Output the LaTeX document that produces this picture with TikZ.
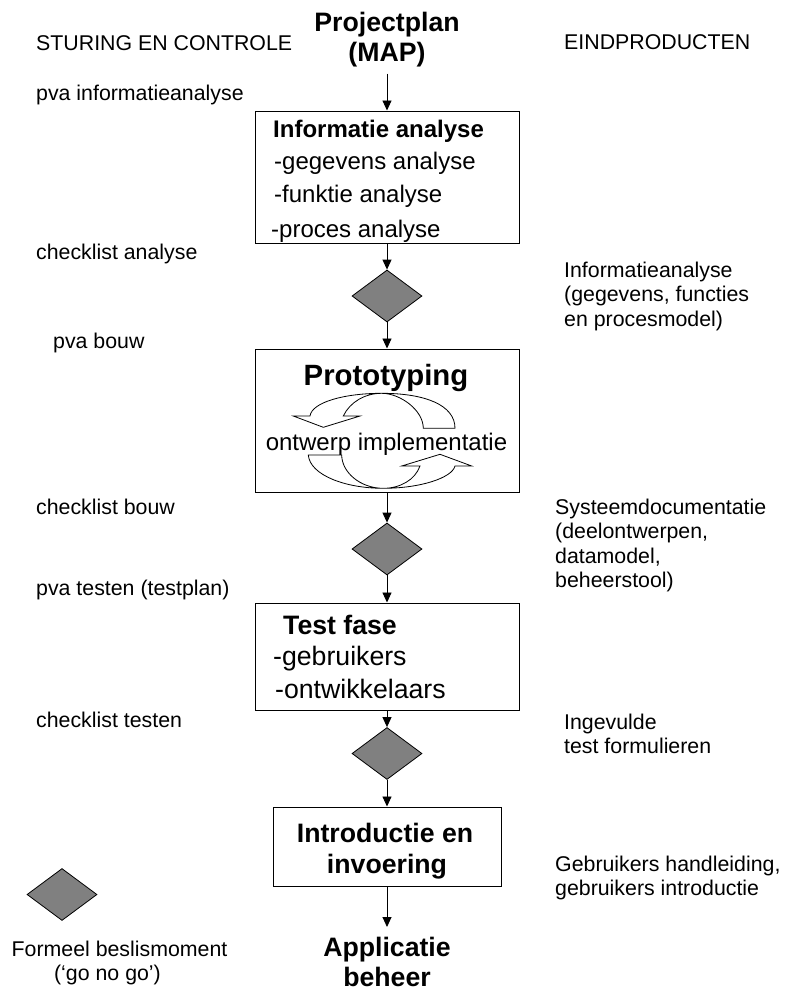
\documentclass[tikz,border=0pt]{standalone}
\usepackage{fontspec}
\setmainfont{Liberation Sans}
\usetikzlibrary{shapes.geometric,arrows.meta}
\definecolor{gatefill}{RGB}{128,128,128}
\begin{document}
\begin{tikzpicture}[x=1pt,y=-1pt,
  lbl/.style={anchor=base west,inner sep=0pt,font=\fontsize{21.33}{24.5}\selectfont},
  title/.style={anchor=base,inner sep=0pt,font=\fontsize{26.67}{30}\selectfont\bfseries},
  boxhead/.style={anchor=base west,inner sep=0pt,font=\fontsize{24}{28}\selectfont\bfseries},
  boxline/.style={anchor=base west,inner sep=0pt,font=\fontsize{24}{28}\selectfont},
  bighead/.style={anchor=base west,inner sep=0pt,font=\fontsize{26.67}{30}\selectfont\bfseries},
  bigline/.style={anchor=base west,inner sep=0pt,font=\fontsize{26.67}{30}\selectfont},
  phase/.style={draw,line width=1pt,inner sep=0pt},
  gate/.style={diamond,draw,fill=gatefill,line width=0.8pt,inner sep=0pt,
    minimum width=70pt,minimum height=52pt},
  flow/.style={line width=0.9pt,-{Triangle[length=10pt,width=9pt]}},
  loop/.style={draw,line width=0.8pt,fill=white}]
\useasboundingbox (0,0) rectangle (787,996);

% column headings
\node[lbl] (hleft) at (36,50) {STURING EN CONTROLE};
\node[lbl] (hright) at (564,49) {EINDPRODUCTEN};

% start and end of the flow
\node[title,anchor=south,inner sep=0pt,inner ysep=6pt,align=center] (plan) at (387,73.5)
  {Projectplan\\(MAP)};
\node[title,anchor=north,inner sep=0pt,inner ysep=0pt,align=center] (app) at (387,927)
  {\rule{0pt}{29pt}Applicatie\\beheer};

% phase boxes
\node[phase,minimum width=264pt,minimum height=132pt] (info) at (387,177) {};
\node[phase,minimum width=264pt,minimum height=143pt] (proto) at (387,420.5) {};
\node[phase,minimum width=264pt,minimum height=107pt] (test) at (387,656.5) {};
\node[phase,minimum width=228pt,minimum height=79pt] (intro) at (387,846.5) {};

% decision points
\node[gate] (d1) at (387,296) {};
\node[gate] (d2) at (387,549) {};
\node[gate] (d3) at (387,753.5) {};
\node[gate] (legend) at (62,894.5) {};

% flow arrows
\draw[flow] (plan) -- (info);
\draw[flow] (info) -- (d1);
\draw[flow] (d1) -- (proto);
\draw[flow] (proto) -- (d2);
\draw[flow] (d2) -- (test);
\draw[flow] (test) -- (d3);
\draw[flow] (d3) -- (intro);
\draw[flow] (intro) -- (app);

% information analysis box
\node[boxhead] (infoh) at (273,137) {Informatie analyse};
\node[boxline] (info1) at (274,169) {-gegevens analyse};
\node[boxline] (info2) at (274,202) {-funktie analyse};
\node[boxline] (info3) at (271,237) {-proces analyse};

% prototyping box with its two curved arrows
\path[loop] (455,428.3) .. controls (455,405) and (425,393.3) .. (381.7,393.3)
  .. controls (345,393.3) and (312,402) .. (310,416) -- (293.3,416) -- (323.3,427.3)
  -- (360,416) -- (343.3,416) .. controls (350,402) and (365,393.3) .. (381.7,393.3)
  .. controls (400,393.3) and (423.3,410) .. (423.3,428.3) -- cycle;
\path[loop] (308.3,455) .. controls (310,475) and (345,488.3) .. (383.3,488.3)
  .. controls (420,488.3) and (452,478) .. (455,466) -- (471.7,466) -- (440,454.3)
  -- (401.7,466) -- (420,466) .. controls (415,480) and (400,488.3) .. (383.3,488.3)
  .. controls (360,488.3) and (341.7,472) .. (341.7,455) -- cycle;
\node[anchor=base,inner sep=0pt,font=\fontsize{29.33}{33}\selectfont\bfseries] (protoh)
  at (386,385) {Prototyping};
\node[anchor=base,inner sep=0pt,font=\fontsize{24}{28}\selectfont] (proto1)
  at (386.5,450) {ontwerp implementatie};

% test box
\node[bighead] (testh) at (283,634) {Test fase};
\node[bigline] (test1) at (273,665) {-gebruikers};
\node[bigline] (test2) at (275,698) {-ontwikkelaars};

% introduction box
\node[title] (introh) at (385,842) {Introductie en};
\node[title] (intro1) at (387,873) {invoering};

% control documents
\node[lbl] (l1) at (36,100) {pva informatieanalyse};
\node[lbl] (l2) at (36,259) {checklist analyse};
\node[lbl] (l3) at (53,348) {pva bouw};
\node[lbl] (l4) at (36,514) {checklist bouw};
\node[lbl] (l5) at (36,595) {pva testen (testplan)};
\node[lbl] (l6) at (36,727) {checklist testen};

% legend
\node[lbl,anchor=base] (lg1) at (119.5,956) {Formeel beslismoment};
\node[lbl,anchor=base] (lg2) at (107.5,980) {(‘go no go’)};

% end products
\node[lbl] (r1) at (564,277) {Informatieanalyse};
\node[lbl] (r2) at (564,301.5) {(gegevens, functies};
\node[lbl] (r3) at (564,326) {en procesmodel)};
\node[lbl] (r4) at (555,514) {Systeemdocumentatie};
\node[lbl] (r5) at (555,538) {(deelontwerpen,};
\node[lbl] (r6) at (555,563) {datamodel,};
\node[lbl] (r7) at (555,587) {beheerstool)};
\node[lbl] (r8) at (564,729) {Ingevulde};
\node[lbl] (r9) at (564,753) {test formulieren};
\node[lbl] (r10) at (555,871) {Gebruikers handleiding,};
\node[lbl] (r11) at (555,895) {gebruikers introductie};
\end{tikzpicture}
\end{document}
